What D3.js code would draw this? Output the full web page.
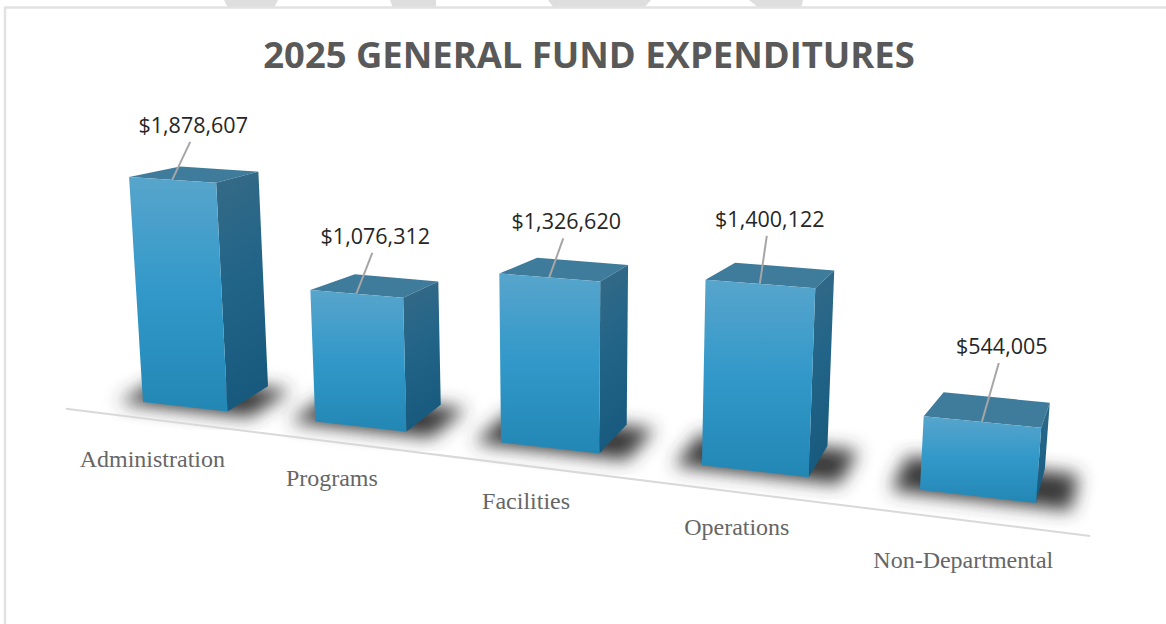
<!DOCTYPE html>
<html>
<head>
<meta charset="utf-8">
<script src="https://cdnjs.cloudflare.com/ajax/libs/d3/7.8.5/d3.min.js"></script>
<style>
  html, body { margin: 0; padding: 0; background: #fff; }
  svg { display: block; }
</style>
</head>
<body>
<svg id="chart" width="1166" height="624"></svg>
<script>
// Chart values
var title = '2025 GENERAL FUND EXPENDITURES';
var categories = ['Administration', 'Programs', 'Facilities', 'Operations', 'Non-Departmental'];
var expenditures = [1878607, 1076312, 1326620, 1400122, 544005];

// Leader line offset from the top of each bar, the labels were dragged by hand
var leaderDx = [18, 16, 14, 7, 17];
var leaderDy = [-38, -41, -39, -48, -59];

// Same for the category labels
var labelDx = [0, 0, 0, 0, -3];
var labelDy = [3, -1, -2, -2, 2];

var width = 1166, height = 624;
var svg = d3.select('#chart');
var fmt = d3.format('$,');

// Define scales, world units that the camera below turns into pixels
var xScale = d3.scaleBand().domain(categories).range([0, 9]).paddingInner(0.5);
var yScale = d3.scaleLinear().domain([0, 1000000]).range([0, 1]);
var labelScale = d3.scalePoint().domain(categories).range([0.98, 8.58]);
var depth = 1;

// Perspective camera, fitted to the corners of the boxes
function project(x, y, z) {
  var w = 1 - 0.01817 * x + 0.0417 * z - 0.01681 * y;
  return [
    (143 + 80.4 * x + 50.9 * z - 9.58 * y) / w,
    (402 + 2.08 * x - 8.76 * z - 122.7 * y) / w
  ];
}

// The back of the lid sits a bit lower than the floor corners say
function lid(x, y, dx) {
  var p = project(x, y, depth);
  return [p[0] + dx, p[1] + 5.5];
}

var poly = d3.line();

// Gradients and blur
var defs = svg.append('defs');
function gradient(id, x2, y2, stops) {
  var g = defs.append('linearGradient').attr('id', id)
    .attr('x1', 0).attr('y1', 0).attr('x2', x2).attr('y2', y2);
  stops.forEach(function (s) {
    g.append('stop').attr('offset', s[0]).attr('stop-color', s[1]);
  });
}
gradient('front', 0, 1, [[0, '#57A5CC'], [0.5, '#3198C9'], [1, '#2387B4']]);
gradient('side', 0.15, 1, [[0, '#366A86'], [0.5, '#216488'], [1, '#175A7E']]);
defs.append('filter').attr('id', 'blur')
    .attr('x', '-30%').attr('y', '-30%').attr('width', '160%').attr('height', '160%')
  .append('feGaussianBlur').attr('stdDeviation', 9);

// Page frame and the bit of watermark above it
var marks = [[224, 278, 228, 274], [390, 436, 393, 436], [548, 651, 554, 644], [749, 803, 759, 801]];
svg.selectAll('.watermark')
    .data(marks)
    .enter().append('path')
    .attr('class', 'watermark')
    .attr('fill', '#DEDEDE')
    .attr('d', function (d) { return poly([[d[0], 0], [d[1], 0], [d[3], 8], [d[2], 8]]) + 'Z'; });
svg.append('path')
    .attr('d', 'M' + 5 + ',' + height + 'V7.5H' + width)
    .attr('fill', 'none')
    .attr('stroke', '#E2E2E2')
    .attr('stroke-width', 2.5);

// Title
svg.append('text')
    .attr('x', 589)
    .attr('y', 68)
    .attr('text-anchor', 'middle')
    .attr('fill', '#595959')
    .style('font', 'bold 36.4px "Open Sans"')
    .text(title);

// Shadows on the floor
svg.selectAll('.shadow')
    .data(categories)
    .enter().append('path')
    .attr('class', 'shadow')
    .attr('fill', '#383838')
    .attr('filter', 'url(#blur)')
    .attr('d', function (d) {
      var x0 = xScale(d) - 0.24, x1 = xScale(d) + xScale.bandwidth() + 0.3;
      return poly([project(x0, 0, -0.1), project(x1, 0, -0.1), project(x1, 0, 0.95), project(x0, 0, 0.95)]) + 'Z';
    });

// Axis line
svg.append('path')
    .attr('d', poly([project(-0.65, 0, -0.5), project(9.49, 0, -0.7)]))
    .attr('stroke', '#D9D9D9')
    .attr('stroke-width', 2)
    .attr('fill', 'none');

// Draw the boxes
var bars = svg.selectAll('.bar')
    .data(categories)
    .enter().append('g')
    .attr('class', 'bar');

function face(fill, corners) {
  bars.append('path')
      .attr('fill', fill)
      .attr('d', function (d, i) {
        var x0 = xScale(d), x1 = x0 + xScale.bandwidth(), v = yScale(expenditures[i]);
        return poly(corners(x0, x1, v)) + 'Z';
      });
}

face('#3F7B9B', function (x0, x1, v) {
  return [project(x0, v, 0), project(x1, v, 0), lid(x1, v, 0), lid(x0, v, 6)];
});
face('url(#side)', function (x0, x1, v) {
  return [project(x1, v, 0), lid(x1, v, 0), project(x1, 0, depth), project(x1, 0, 0)];
});
face('url(#front)', function (x0, x1, v) {
  return [project(x0, v, 0), project(x1, v, 0), project(x1, 0, 0), project(x0, 0, 0)];
});

// Leader lines and value labels
function topCentre(d, i) {
  return project(xScale(d) + xScale.bandwidth() / 2, yScale(expenditures[i]), 0);
}

bars.append('line')
    .attr('x1', function (d, i) { return topCentre(d, i)[0]; })
    .attr('y1', function (d, i) { return topCentre(d, i)[1]; })
    .attr('x2', function (d, i) { return topCentre(d, i)[0] + leaderDx[i]; })
    .attr('y2', function (d, i) { return topCentre(d, i)[1] + leaderDy[i]; })
    .attr('stroke', '#A6A6A6')
    .attr('stroke-width', 2);

bars.append('text')
    .attr('x', function (d, i) { return topCentre(d, i)[0] + leaderDx[i] + 3; })
    .attr('y', function (d, i) { return topCentre(d, i)[1] + leaderDy[i] - 9; })
    .attr('text-anchor', 'middle')
    .attr('fill', '#262626')
    .style('font', '21.5px "Open Sans"')
    .text(function (d, i) { return fmt(expenditures[i]); });

// Category labels
svg.selectAll('.category')
    .data(categories)
    .enter().append('text')
    .attr('class', 'category')
    .attr('x', function (d, i) { return project(labelScale(d), 0, -1.62)[0] + labelDx[i]; })
    .attr('y', function (d, i) { return project(labelScale(d), 0, -1.62)[1] + 7 + labelDy[i]; })
    .attr('text-anchor', 'middle')
    .attr('fill', '#666666')
    .style('font', '24px "Liberation Serif"')
    .text(function (d) { return d; });
</script>
</body>
</html>
